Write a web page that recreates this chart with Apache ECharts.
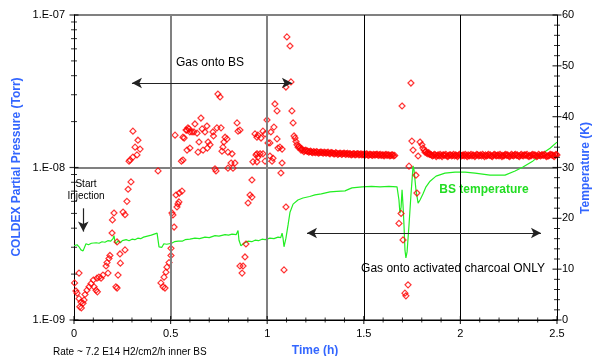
<!DOCTYPE html>
<html>
<head>
<meta charset="utf-8">
<script src="https://cdn.jsdelivr.net/npm/echarts@6.0.0/dist/echarts.min.js"></script>
<style>
  html, body { margin: 0; padding: 0; background: #fff; }
  #chart { width: 593px; height: 356px; }
</style>
</head>
<body>
<div id="chart"></div>
<script>
// COLDEX partial pressure (Torr) vs time (h)
const pressure = [
  [0.003,1.75e-9],[0.01,1.55e-9],[0.016,1.50e-9],[0.026,2.03e-9],[0.026,1.38e-9],[0.03,1.22e-9],
  [0.036,1.31e-9],[0.038,1.20e-9],[0.047,1.29e-9],[0.052,1.35e-9],[0.057,1.47e-9],[0.067,1.57e-9],
  [0.078,1.65e-9],[0.088,1.73e-9],[0.1,1.83e-9],[0.104,1.65e-9],[0.114,1.57e-9],[0.119,1.88e-9],
  [0.121,1.53e-9],[0.129,1.91e-9],[0.14,1.88e-9],[0.15,1.97e-9],[0.166,2.26e-9],[0.171,2.38e-9],
  [0.176,2.03e-9],[0.181,2.53e-9],[0.186,2.65e-9],[0.197,3.72e-9],[0.199,4.53e-9],[0.207,5.03e-9],
  [0.217,1.65e-9],[0.223,1.62e-9],[0.228,1.97e-9],[0.223,3.25e-9],[0.238,2.71e-9],[0.24,2.36e-9],
  [0.254,5.1e-9],[0.264,4.9e-9],[0.264,2.88e-9],[0.274,6.0e-9],[0.28,7.2e-9],[0.295,8.04e-9],
  [0.285,1.1e-8],[0.29,1.12e-8],[0.305,1.17e-8],[0.326,1.21e-8],[0.342,1.32e-8],[0.316,1.36e-8],
  [0.331,1.51e-8],[0.305,1.73e-8],[0.435,9.5e-9],
  [0.45,1.75e-9],[0.461,1.65e-9],[0.471,1.62e-9],[0.466,1.91e-9],[0.476,2.06e-9],[0.481,2.22e-9],
  [0.492,2.38e-9],[0.502,2.65e-9],[0.502,2.95e-9],[0.507,5.03e-9],[0.518,4.07e-9],[0.512,4.88e-9],
  [0.533,5.51e-9],[0.538,5.77e-9],[0.543,5.95e-9],[0.528,6.6e-9],[0.545,6.8e-9],[0.559,7.0e-9],
  [0.564,1.12e-8],[0.556,1.1e-8],[0.523,1.63e-8],[0.564,1.58e-8],[0.57,1.56e-8],[0.58,1.76e-8],
  [0.585,1.76e-8],[0.59,1.82e-8],[0.595,1.79e-8],[0.6,1.71e-8],[0.611,1.71e-8],[0.621,1.71e-8],
  [0.626,1.93e-8],[0.637,1.68e-8],[0.647,1.47e-8],[0.657,2.11e-8],[0.663,1.79e-8],[0.678,1.71e-8],
  [0.688,1.87e-8],[0.694,1.47e-8],[0.704,1.41e-8],[0.69,1.34e-8],[0.668,1.3e-8],[0.642,1.26e-8],
  [0.6,1.34e-8],[0.585,1.3e-8],[0.719,1.71e-8],[0.722,1.61e-8],[0.74,1.82e-8],[0.761,1.82e-8],
  [0.745,3.03e-8],[0.756,2.9e-8],[0.782,1.58e-8],[0.792,1.54e-8],[0.776,1.47e-8],[0.771,1.36e-8],
  [0.766,1.28e-8],[0.797,1.26e-8],[0.818,1.23e-8],[0.844,1.96e-8],[0.849,1.73e-8],[0.859,1.76e-8],
  [0.73,9.8e-9],[0.735,9.5e-9],[0.797,9.9e-9],[0.823,9.9e-9],[0.813,1.07e-8],[0.833,1.07e-8],
  [0.921,8.28e-9],[0.911,6.6e-9],[0.921,6.4e-9],[0.901,5.85e-9],[0.89,3.15e-9],[0.885,2.59e-9],
  [0.859,2.26e-9],[0.875,2.26e-9],[0.87,2.03e-9],
  [0.937,1.66e-8],[0.952,1.63e-8],[0.947,1.23e-8],[0.926,1.09e-8],[0.947,1.09e-8],
  [1.102,7.18e-8],[1.118,6.26e-8],[1.123,3.64e-8],[1.097,3.37e-8],[1.04,2.61e-8],[1.051,2.35e-8],
  [0.999,2.05e-8],[1.128,2.35e-8],[1.134,1.96e-8],[1.035,1.84e-8],[1.019,1.71e-8],[0.978,1.73e-8],
  [0.989,1.66e-8],[0.968,1.56e-8],[0.947,1.58e-8],[1.004,1.45e-8],[1.014,1.45e-8],[1.051,1.54e-8],
  [1.066,1.36e-8],[1.056,1.34e-8],[1.077,1.32e-8],[0.942,1.21e-8],[0.963,1.23e-8],[0.978,1.23e-8],
  [0.952,1.17e-8],[1.014,1.19e-8],[1.03,1.15e-8],[0.989,1.1e-8],[1.025,1.1e-8],[1.077,1.07e-8],
  [1.071,9.2e-9],[1.097,5.51e-9],[1.087,2.13e-9],
  [1.139,1.61e-8],[1.144,1.56e-8],[1.149,1.48e-8],[1.154,1.41e-8],[1.16,1.36e-8],[1.165,1.38e-8],
  [1.17,1.34e-8],[1.175,1.30e-8],[1.178,1.33e-8],[1.185,1.3e-8],[1.19,1.27e-8],[1.195,1.29e-8],
  [1.2,1.30e-8],[1.206,1.28e-8],
  [1.698,2.53e-8],[1.744,3.58e-8],[1.749,1.49e-8],[1.791,1.47e-8],[1.801,1.41e-8],[1.806,1.34e-8],
  [1.755,1.3e-8],[1.781,1.19e-8],[1.734,1.02e-8],[1.77,8.9e-9],[1.775,6.8e-9],[1.693,5.0e-9],
  [1.682,4.3e-9],[1.703,3.35e-9],[1.729,1.7e-9],[1.713,1.5e-9],[1.718,1.44e-9],
  [1.812,1.3e-8],[1.817,1.26e-8],[1.822,1.28e-8],[1.825,1.24e-8],[1.832,1.23e-8],[1.836,1.25e-8],
  [1.84,1.22e-8]
];

// the dense flat parts of the pressure record (after each burst)
const pressureBand = [
  [1.21,1.28e-8],[1.215,1.26e-8],[1.22,1.27e-8],[1.225,1.28e-8],[1.23,1.26e-8],[1.235,1.25e-8],
  [1.24,1.27e-8],[1.245,1.26e-8],[1.25,1.25e-8],[1.255,1.27e-8],[1.26,1.26e-8],[1.265,1.24e-8],
  [1.27,1.25e-8],[1.275,1.26e-8],[1.28,1.26e-8],[1.285,1.25e-8],[1.29,1.24e-8],[1.295,1.26e-8],
  [1.30,1.25e-8],[1.305,1.24e-8],[1.31,1.25e-8],[1.315,1.26e-8],[1.32,1.24e-8],[1.325,1.23e-8],
  [1.33,1.25e-8],[1.335,1.25e-8],[1.34,1.24e-8],[1.345,1.23e-8],[1.35,1.23e-8],[1.355,1.25e-8],
  [1.36,1.24e-8],[1.365,1.22e-8],[1.37,1.23e-8],[1.375,1.24e-8],[1.38,1.24e-8],[1.385,1.22e-8],
  [1.39,1.23e-8],[1.395,1.24e-8],[1.40,1.24e-8],[1.405,1.22e-8],[1.41,1.23e-8],[1.415,1.24e-8],
  [1.42,1.22e-8],[1.425,1.23e-8],[1.43,1.23e-8],[1.435,1.21e-8],[1.44,1.22e-8],[1.445,1.23e-8],
  [1.45,1.23e-8],[1.455,1.21e-8],[1.46,1.22e-8],[1.465,1.23e-8],[1.47,1.23e-8],[1.475,1.21e-8],
  [1.48,1.22e-8],[1.485,1.23e-8],[1.49,1.21e-8],[1.495,1.22e-8],[1.50,1.22e-8],[1.505,1.20e-8],
  [1.51,1.22e-8],[1.515,1.23e-8],[1.52,1.21e-8],[1.525,1.20e-8],[1.53,1.22e-8],[1.535,1.22e-8],
  [1.54,1.21e-8],[1.545,1.20e-8],[1.55,1.22e-8],[1.555,1.21e-8],[1.56,1.21e-8],[1.565,1.22e-8],
  [1.57,1.22e-8],[1.575,1.20e-8],[1.58,1.21e-8],[1.585,1.22e-8],[1.59,1.20e-8],[1.595,1.21e-8],
  [1.60,1.21e-8],[1.605,1.19e-8],[1.61,1.21e-8],[1.615,1.22e-8],[1.62,1.20e-8],[1.625,1.21e-8],
  [1.63,1.21e-8],[1.635,1.19e-8],[1.64,1.20e-8],[1.645,1.21e-8],[1.65,1.21e-8],[1.655,1.19e-8],
  [1.66,1.20e-8],
  [1.845,1.22e-8],[1.85,1.21e-8],[1.855,1.19e-8],[1.86,1.20e-8],[1.865,1.22e-8],[1.87,1.21e-8],
  [1.875,1.18e-8],[1.88,1.20e-8],[1.885,1.21e-8],[1.89,1.19e-8],[1.895,1.22e-8],[1.90,1.20e-8],
  [1.905,1.18e-8],[1.91,1.21e-8],[1.915,1.21e-8],[1.92,1.20e-8],[1.925,1.22e-8],[1.93,1.19e-8],
  [1.935,1.18e-8],[1.94,1.20e-8],[1.945,1.21e-8],[1.95,1.21e-8],[1.955,1.19e-8],[1.96,1.20e-8],
  [1.965,1.22e-8],[1.97,1.19e-8],[1.975,1.21e-8],[1.98,1.20e-8],[1.985,1.18e-8],[1.99,1.20e-8],
  [1.995,1.22e-8],[2.00,1.21e-8],[2.005,1.19e-8],[2.01,1.20e-8],[2.015,1.21e-8],[2.02,1.19e-8],
  [2.025,1.22e-8],[2.03,1.20e-8],[2.035,1.18e-8],[2.04,1.21e-8],[2.045,1.19e-8],[2.05,1.20e-8],
  [2.055,1.22e-8],[2.06,1.19e-8],[2.065,1.21e-8],[2.07,1.20e-8],[2.075,1.18e-8],[2.08,1.20e-8],
  [2.085,1.22e-8],[2.09,1.21e-8],[2.095,1.19e-8],[2.10,1.20e-8],[2.105,1.21e-8],[2.11,1.19e-8],
  [2.115,1.22e-8],[2.12,1.20e-8],[2.125,1.18e-8],[2.13,1.21e-8],[2.135,1.19e-8],[2.14,1.20e-8],
  [2.145,1.22e-8],[2.15,1.20e-8],[2.155,1.21e-8],[2.16,1.19e-8],[2.165,1.18e-8],[2.17,1.20e-8],
  [2.175,1.22e-8],[2.18,1.21e-8],[2.185,1.19e-8],[2.19,1.20e-8],[2.195,1.21e-8],[2.20,1.19e-8],
  [2.205,1.22e-8],[2.21,1.20e-8],[2.215,1.18e-8],[2.22,1.20e-8],[2.225,1.19e-8],[2.23,1.21e-8],
  [2.235,1.22e-8],[2.24,1.20e-8],[2.245,1.21e-8],[2.25,1.19e-8],[2.255,1.18e-8],[2.26,1.20e-8],
  [2.265,1.22e-8],[2.27,1.20e-8],[2.275,1.19e-8],[2.28,1.21e-8],[2.285,1.22e-8],[2.29,1.20e-8],
  [2.295,1.21e-8],[2.30,1.19e-8],[2.305,1.18e-8],[2.31,1.20e-8],[2.315,1.22e-8],[2.32,1.20e-8],
  [2.325,1.19e-8],[2.33,1.21e-8],[2.335,1.21e-8],[2.34,1.20e-8],[2.345,1.22e-8],[2.35,1.19e-8],
  [2.355,1.18e-8],[2.36,1.20e-8],[2.365,1.19e-8],[2.37,1.21e-8],[2.375,1.22e-8],[2.38,1.20e-8],
  [2.385,1.21e-8],[2.39,1.20e-8],[2.395,1.18e-8],[2.40,1.19e-8],[2.405,1.22e-8],[2.41,1.20e-8],
  [2.415,1.19e-8],[2.42,1.21e-8],[2.425,1.21e-8],[2.43,1.20e-8],[2.435,1.22e-8],[2.44,1.20e-8],
  [2.445,1.18e-8],[2.45,1.19e-8],[2.455,1.19e-8],[2.46,1.20e-8],[2.465,1.22e-8],[2.47,1.21e-8],
  [2.475,1.21e-8],[2.48,1.20e-8],[2.485,1.18e-8],[2.49,1.20e-8],[2.495,1.22e-8],[2.50,1.21e-8]
];

// BS temperature (K) vs time (h)
const temperature = [
  [0,14.6],[0.016,14.8],[0.026,14.4],[0.036,13.8],[0.047,13.6],[0.062,15.0],[0.075,14.8],[0.09,15.1],
  [0.1,14.9],[0.115,15.2],[0.13,15.1],[0.145,15.4],[0.16,15.3],[0.175,15.6],[0.19,15.5],[0.202,16.0],
  [0.207,16.6],[0.212,15.4],[0.217,15.0],[0.228,15.6],[0.24,15.2],[0.25,15.6],[0.26,15.4],[0.27,15.8],
  [0.285,15.6],[0.3,15.9],[0.315,15.8],[0.33,16.1],[0.345,16.0],[0.36,16.3],[0.38,16.5],[0.4,16.7],
  [0.415,16.9],[0.43,17.1],[0.44,14.4],[0.455,14.3],[0.465,15.0],[0.48,14.9],[0.49,15.2],[0.505,15.1],
  [0.52,15.4],[0.54,15.5],[0.56,15.5],[0.575,15.8],[0.6,15.9],[0.626,16.1],[0.65,16.0],[0.678,16.3],
  [0.7,16.2],[0.73,16.6],[0.75,16.5],[0.782,16.8],[0.8,16.7],[0.818,16.9],[0.84,16.8],[0.849,17.6],
  [0.854,15.7],[0.864,14.6],[0.88,15.1],[0.9,15.5],[0.92,15.4],[0.937,15.7],[0.955,15.6],[0.973,15.9],
  [0.99,15.8],[1.014,16.1],[1.035,16.0],[1.056,16.3],[1.07,16.2],[1.077,17.1],[1.082,16.1],[1.087,14.4],
  [1.097,16.1],[1.108,18.7],[1.118,21.2],[1.134,22.8],[1.159,23.6],[1.185,24.0],[1.22,24.3],[1.247,24.6],
  [1.28,24.8],[1.325,25.2],[1.36,25.3],[1.403,25.4],[1.42,25.7],[1.439,26.0],[1.491,26.2],[1.54,26.3],
  [1.584,26.2],[1.63,26.3],[1.672,26.2],[1.682,23.6],[1.687,21.0],[1.693,22.2],[1.698,25.6],[1.703,22.6],
  [1.708,18.7],[1.713,13.8],[1.718,12.2],[1.724,13.4],[1.734,18.7],[1.744,24.6],[1.755,30.3],[1.76,29.5],
  [1.77,25.6],[1.781,23.0],[1.791,23.6],[1.806,24.8],[1.822,26.2],[1.843,27.3],[1.874,28.3],[1.92,28.9],
  [1.972,29.1],[2.024,29.1],[2.076,28.9],[2.153,28.5],[2.231,28.5],[2.283,29.3],[2.324,30.1],[2.376,31.3],
  [2.422,32.7],[2.464,33.8],[2.5,35.0]
];

// axis ticks (drawn as crossing marks like the original)
const pressureTicks = [1e-9,2e-9,3e-9,4e-9,5e-9,6e-9,7e-9,8e-9,9e-9,
  1e-8,2e-8,3e-8,4e-8,5e-8,6e-8,7e-8,8e-8,9e-8,1e-7];
const timeTicks = [0,0.1,0.2,0.3,0.4,0.5,0.6,0.7,0.8,0.9,1,1.1,1.2,1.3,1.4,1.5,
  1.6,1.7,1.8,1.9,2,2.1,2.2,2.3,2.4,2.5];
const tempTicks = [0,2,4,6,8,10,12,14,16,18,20,22,24,26,28,30,32,34,36,38,40,
  42,44,46,48,50,52,54,56,58,60];

// vertical grid lines and annotation arrows
const gridGray = [0.5, 1];
const gridBlack = [1.5, 2];
const arrowBS = [[0.30, 3.58e-8], [1.128, 3.58e-8]];
const arrowCharcoal = [[1.206, 3.72e-9], [2.417, 3.72e-9]];
const arrowInjection = [[0.048, 5.4e-9], [0.048, 3.8e-9]];

const FONT = 'Liberation Sans, Arial, sans-serif';
const BLUE = '#3366ff';
const GREEN = '#22ee22';

const isDecade = v => Math.abs(Math.log10(v) - Math.round(Math.log10(v))) < 1e-6;
const near = (v, step) => Math.abs(v / step - Math.round(v / step)) < 1e-6;

const chart = echarts.init(document.getElementById('chart'), null, { renderer: 'canvas' });

const option = {
    animation: false,
    backgroundColor: '#fff',
    grid: { left: 74, right: 36, top: 15, bottom: 36 },
    xAxis: {
        type: 'value', min: 0, max: 2.5, interval: 0.5,
        axisLine: { show: true, lineStyle: { color: '#000', width: 1 } },
        axisTick: { show: false },
        splitLine: { show: false },
        axisLabel: { color: '#000', fontSize: 11, fontFamily: FONT, margin: 8 }
    },
    yAxis: [{
        type: 'log', logBase: 10, min: 1e-9, max: 1e-7,
        axisLine: { show: true, lineStyle: { color: '#000', width: 1 } },
        axisTick: { show: false },
        splitLine: { show: true, lineStyle: { color: '#808080', width: 2 } },
        axisLabel: {
            color: '#000', fontSize: 11, fontFamily: FONT, margin: 9,
            formatter: v => '1.E-' + String(-Math.round(Math.log10(v))).padStart(2, '0')
        }
    }, {
        type: 'value', min: 0, max: 60, interval: 10, position: 'right',
        axisLine: { show: true, lineStyle: { color: '#000', width: 1 } },
        axisTick: { show: false },
        splitLine: { show: false },
        axisLabel: { color: '#000', fontSize: 11, fontFamily: FONT, margin: 5 }
    }],
    series: [{
        // grid lines
        type: 'line', data: [], silent: true, z: 1,
        markLine: {
            silent: true, animation: false, symbol: 'none',
            label: { show: false },
            data: gridGray.map(v => ({ xAxis: v, lineStyle: { color: '#808080', width: 2, type: 'solid' } }))
                .concat(gridBlack.map(v => ({ xAxis: v, lineStyle: { color: '#000', width: 1, type: 'solid' } })))
        }
    }, {
        // annotation arrows
        type: 'line', data: [], silent: true, z: 4,
        markLine: {
            silent: true, animation: false,
            symbol: ['arrow', 'arrow'], symbolSize: [8, 10],
            label: { show: false },
            lineStyle: { color: '#222', width: 1.2, type: 'solid' },
            data: [
                [{ coord: arrowBS[0] }, { coord: arrowBS[1] }],
                [{ coord: arrowCharcoal[0] }, { coord: arrowCharcoal[1] }],
                [{ coord: arrowInjection[0], symbol: 'none' }, { coord: arrowInjection[1] }]
            ]
        }
    }, {
        name: 'BS temperature', type: 'line', yAxisIndex: 1, data: temperature,
        showSymbol: false, symbol: 'none', z: 2,
        lineStyle: { color: GREEN, width: 1.2 }
    }, {
        name: 'Pressure', type: 'scatter', data: pressure.concat(pressureBand), z: 3,
        symbol: 'diamond', symbolSize: 6,
        itemStyle: { color: 'rgba(0,0,0,0)', borderColor: '#ff0000', borderWidth: 1.2 }
    }, {
        type: 'scatter', clip: false, silent: true, z: 5,
        data: pressureTicks.map(v => [0, v]),
        symbol: 'rect', symbolSize: v => isDecade(v[1]) ? [9, 1.2] : [6, 1],
        itemStyle: { color: '#000' }
    }, {
        type: 'scatter', clip: false, silent: true, z: 5,
        data: timeTicks.map(v => [v, 1e-9]),
        symbol: 'rect', symbolSize: v => near(v[0], 0.5) ? [1.2, 8] : [1, 5],
        itemStyle: { color: '#000' }
    }, {
        type: 'scatter', clip: false, silent: true, z: 5, yAxisIndex: 1,
        data: tempTicks.map(v => [2.5, v]),
        symbol: 'rect', symbolSize: v => near(v[1], 10) ? [9, 1.2] : [6, 1],
        itemStyle: { color: '#000' }
    }],
    graphic: [
        { type: 'text', x: 17, y: 167, rotation: Math.PI / 2,
          style: { text: 'COLDEX Partial Pressure (Torr)', font: 'bold 12px ' + FONT, fill: BLUE, align: 'center', verticalAlign: 'middle' } },
        { type: 'text', x: 586, y: 168, rotation: Math.PI / 2,
          style: { text: 'Temperature (K)', font: 'bold 12px ' + FONT, fill: BLUE, align: 'center', verticalAlign: 'middle' } },
        { type: 'text', x: 315, y: 351,
          style: { text: 'Time (h)', font: 'bold 12px ' + FONT, fill: BLUE, align: 'center', verticalAlign: 'middle' } },
        { type: 'text', x: 53, y: 352,
          style: { text: 'Rate ~ 7.2 E14 H2/cm2/h inner BS', font: '10px ' + FONT, fill: '#000', align: 'left', verticalAlign: 'middle' } },
        { type: 'text', x: 210, y: 63,
          style: { text: 'Gas onto BS', font: '12px ' + FONT, fill: '#000', align: 'center', verticalAlign: 'middle' } },
        { type: 'text', x: 453, y: 269,
          style: { text: 'Gas onto activated charcoal ONLY', font: '12px ' + FONT, fill: '#000', align: 'center', verticalAlign: 'middle' } },
        { type: 'text', x: 86, y: 184,
          style: { text: 'Start', font: '10px ' + FONT, fill: '#000', align: 'center', verticalAlign: 'middle' } },
        { type: 'text', x: 86, y: 196,
          style: { text: 'Injection', font: '10px ' + FONT, fill: '#000', align: 'center', verticalAlign: 'middle' } },
        { type: 'text', x: 484, y: 190,
          style: { text: 'BS temperature', font: 'bold 12px ' + FONT, fill: '#22dd22', align: 'center', verticalAlign: 'middle' } }
    ]
};

chart.setOption(option);
</script>
</body>
</html>
